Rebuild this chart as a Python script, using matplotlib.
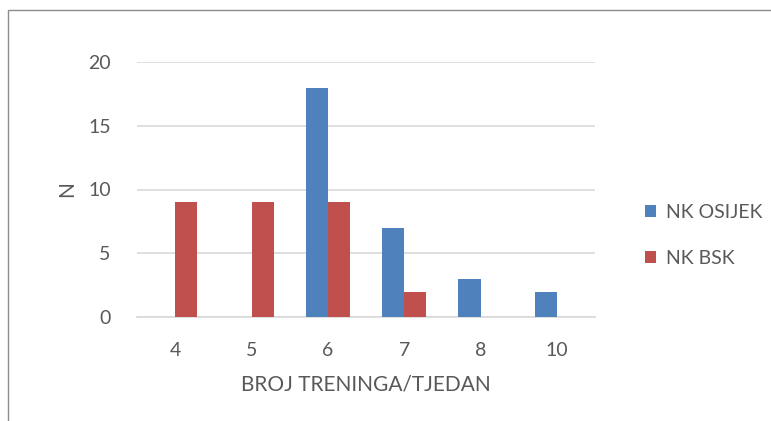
import matplotlib
matplotlib.use("Agg")
import matplotlib.pyplot as plt
from matplotlib.patches import Rectangle
import numpy as np

# training sessions per week, number of players in each club
categories = ["4", "5", "6", "7", "8", "10"]
osijek = [0, 0, 18, 7, 3, 2]
bsk = [9, 9, 9, 2, 0, 0]

plt.rcParams['font.family'] = ['Lato', 'DejaVu Sans']
text_col = "#595959"

fig = plt.figure(figsize=(7.71, 4.21), dpi=100)

# chart frame
fig.patches.append(Rectangle((8 / 771, -0.1), 1.0, 1 - 10 / 421 + 0.1,
                             transform=fig.transFigure, fill=False,
                             edgecolor="#8c8c8c", linewidth=1.0))

ax = fig.add_axes([137 / 771, 1 - 317 / 421, 458 / 771, 255 / 421])

x = np.arange(len(categories))
w = 0.29
ax.bar(x - w / 2, osijek, w, color="#4f81bd", label="NK OSIJEK", zorder=3)
ax.bar(x + w / 2, bsk, w, color="#c0504d", label="NK BSK", zorder=3)

ax.set_xlim(-0.5, len(categories) - 0.5)
ax.set_ylim(0, 20)
ax.set_yticks([0, 5, 10, 15, 20])
ax.set_xticks(x)
ax.set_xticklabels(categories)
ax.grid(axis="y", color="#d9d9d9", linewidth=1.2, zorder=0)
ax.set_axisbelow(True)

for s in ["top", "right", "left"]:
    ax.spines[s].set_visible(False)
ax.spines["bottom"].set_color("#d9d9d9")
ax.spines["bottom"].set_linewidth(1.2)

ax.tick_params(axis="both", length=0, labelsize=14, colors=text_col)
ax.tick_params(axis="y", pad=19)
ax.tick_params(axis="x", pad=18)

ax.set_xlabel("BROJ TRENINGA/TJEDAN", fontsize=15, color=text_col, labelpad=11)
ax.set_ylabel("N", fontsize=15, color=text_col, labelpad=8)

ax.legend(loc="center left", bbox_to_anchor=(1.07, 0.32), frameon=False,
          fontsize=14, labelcolor=text_col, handlelength=0.6, handleheight=0.6,
          handletextpad=0.5, labelspacing=1.5)

fig.savefig("out.png", dpi=100, facecolor="white")
